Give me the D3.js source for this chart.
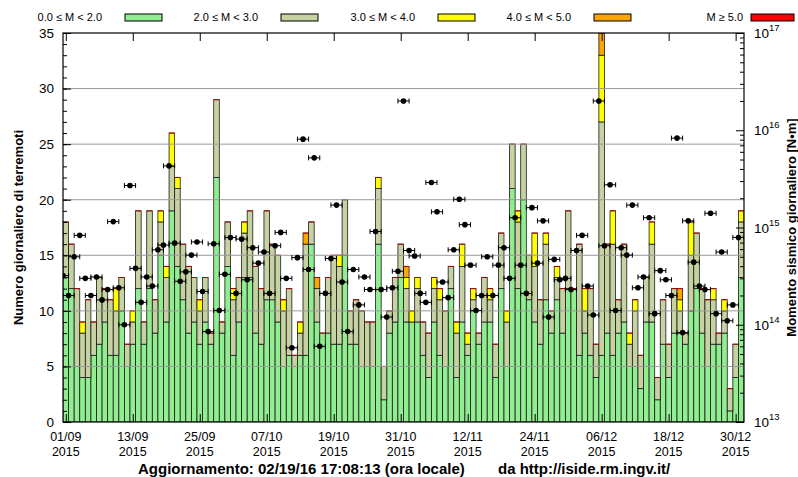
<!DOCTYPE html>
<html>
<head>
<meta charset="utf-8">
<script src="https://cdn.jsdelivr.net/npm/d3@7/dist/d3.min.js"></script>
<style>
body { margin: 0; background: #fff; }
svg { font-family: "Liberation Sans", Arial, Helvetica, sans-serif; }
</style>
</head>
<body>
<svg id="chart" width="798" height="477"></svg>
<script>
// daily counts per magnitude class, 01/09/2015 .. 31/12/2015
var firstDay = "2015-09-01";
var tickLabels = ["01/09", "13/09", "25/09", "07/10", "19/10", "31/10", "12/11", "24/11", "06/12", "18/12", "30/12"];
var tickYear = "2015";
var magClasses = ["0.0 \u2264 M < 2.0", "2.0 \u2264 M < 3.0", "3.0 \u2264 M < 4.0", "4.0 \u2264 M < 5.0", "M \u2265 5.0"];
var magColors = ["#90ee90", "#c6d2a2", "#ffff00", "#ffa500", "#ff0000"];

var countM0 = [13,12,5,4,4,6,7,9,6,6,10,5,7,12,7,12,8,15,9,19,14,
  11,8,9,7,9,7,22,8,14,6,9,13,13,8,7,11,11,9,5,6,
  5,6,6,16,9,8,8,7,7,15,7,7,5,5,5,16,2,8,9,13,9,
  9,9,6,4,9,6,5,12,4,9,6,10,7,9,9,4,12,5,21,12,20,
  11,9,7,11,8,11,8,12,12,6,8,6,4,6,8,6,8,9,5,
  5,3,9,9,2,7,4,8,8,7,10,12,8,5,7,7,8,1,4,13];
var countM2 = [5,4,7,4,7,3,6,3,5,4,3,2,2,7,2,7,3,3,4,4,7,
  5,6,4,3,4,1,7,1,4,5,4,4,6,6,5,8,5,6,5,6,
  1,2,10,2,3,0,5,8,7,5,3,4,5,4,4,5,3,2,4,3,3,
  0,3,3,4,3,5,5,2,4,5,1,1,1,4,2,3,5,4,4,6,5,
  4,5,4,5,2,2,4,7,0,10,2,6,3,21,8,10,3,7,2,
  5,3,4,7,2,4,3,4,2,1,5,5,4,6,4,1,2,2,3,5];
var countM3 = [0,0,0,1,0,0,0,0,0,2,0,0,1,0,0,0,0,1,1,3,1,
  0,0,0,1,0,0,0,0,0,1,0,1,0,0,0,0,0,0,1,0,
  0,1,0,0,0,0,0,0,1,0,0,0,0,0,0,1,0,0,0,0,1,
  1,1,0,0,1,1,0,0,1,2,1,1,0,0,1,0,0,1,0,1,0,
  0,3,0,1,0,1,0,0,0,0,2,0,0,6,0,3,0,0,1,
  1,0,0,2,0,0,0,0,1,0,3,0,0,0,1,0,1,0,0,1];
var countM4 = [0,0,0,0,0,0,0,0,0,0,0,0,0,0,0,0,0,0,0,0,0,
  0,0,0,0,0,0,0,0,0,0,0,0,0,0,0,0,0,0,0,0,
  0,0,1,0,1,0,0,0,0,0,0,0,0,0,0,0,0,0,0,0,1,
  0,0,0,0,0,0,0,0,0,0,0,0,0,0,0,0,0,0,0,0,0,
  0,0,0,0,0,0,0,0,0,0,0,0,0,2,0,0,0,0,0,
  0,0,0,0,0,0,0,0,1,0,0,0,0,0,0,0,0,0,0,0];
var countM5 = countM4.map(function() { return 0; });

// daily seismic moment [N*m]
var moment = [3.2e14,2.0e14,5.0e14,8.3e14,3.0e14,2.0e14,3.1e14,1.8e14,2.3e14,1.15e15,2.4e14,1.0e14,2.7e15,3.8e14,1.7e14,3.1e14,2.5e14,5.9e14,6.6e14,4.3e15,6.9e14,
  2.8e14,3.5e14,5.2e14,7.1e14,2.2e14,8.5e13,6.8e14,1.4e14,3.3e14,7.9e14,2.1e14,7.6e14,2.9e14,6.2e14,4.3e14,5.6e14,2.1e14,6.5e14,8.9e14,3.0e14,
  5.8e13,4.9e14,8.1e15,3.7e14,5.2e15,6.0e13,2.1e14,4.8e14,1.7e15,2.75e14,8.5e13,3.7e14,1.6e14,3.1e14,2.3e14,9.1e14,2.3e14,1.2e14,2.4e14,3.55e14,2.0e16,
  5.8e14,5.1e14,2.1e14,1.7e14,2.9e15,1.45e15,2.75e14,1.9e14,5.9e14,1.95e15,1.07e15,4.1e14,1.4e14,2.0e14,5.0e14,2.0e14,4.1e14,6.2e14,3.0e14,1.26e15,4.1e14,
  2.1e14,1.6e15,4.3e14,1.17e15,1.2e14,4.7e14,2.9e14,3.0e14,2.3e14,5.8e14,8.3e14,2.5e14,1.26e14,2.0e16,6.5e14,2.75e15,1.4e14,6.2e14,5.2e14,
  1.7e15,2.4e14,3.1e14,1.26e15,1.3e14,3.6e14,2.9e14,2.0e14,8.3e15,8.3e13,1.17e15,4.4e14,2.5e14,2.3e14,1.4e15,1.3e14,5.6e14,1.1e14,1.6e14,7.9e14];

var plotL = 63, plotR = 744, plotT = 33, plotB = 422;

var svg = d3.select("#chart");
var nDays = countM0.length;
var day0 = d3.timeParse("%Y-%m-%d")(firstDay);
var fmt = d3.timeFormat("%d/%m");
var days = d3.range(nDays).map(function(i) {
  return {
    i: i, label: fmt(d3.timeDay.offset(day0, i)),
    m0: countM0[i], m2: countM2[i], m3: countM3[i], m4: countM4[i], m5: countM5[i],
    moment: moment[i]
  };
});
var keys = ["m0", "m2", "m3", "m4", "m5"];

var x = d3.scaleLinear().domain([0, nDays]).range([plotL, plotR]);
var y = d3.scaleLinear().domain([0, 35]).range([plotB, plotT]);
var yM = d3.scaleLog().domain([1e13, 1e17]).range([plotB, plotT]);

svg.append("defs").append("clipPath").attr("id", "plotclip")
  .append("rect").attr("x", plotL).attr("y", plotT)
  .attr("width", plotR - plotL).attr("height", plotB - plotT);

var plot = svg.append("g").attr("clip-path", "url(#plotclip)");

// stacked bars
var stacked = d3.stack().keys(keys)(days);
plot.selectAll("g.layer")
  .data(stacked)
  .enter()
  .append("g")
  .attr("class", "layer")
  .attr("fill", function(d, k) { return magColors[k]; })
  .selectAll("rect")
  .data(function(d) { return d.filter(function(s) { return s[1] > s[0]; }); })
  .enter()
  .append("rect")
  .attr("x", function(s) { return x(s.data.i); })
  .attr("width", function(s) { return x(s.data.i + 1) - x(s.data.i); })
  .attr("y", function(s) { return y(s[1]); })
  .attr("height", function(s) { return y(s[0]) - y(s[1]); })
  .attr("stroke", "#1a1a1a")
  .attr("stroke-width", 0.8);

// top of each bar (M >= 5 layer, empty) drawn as a thin red line
plot.selectAll("line.top")
  .data(stacked[4])
  .enter()
  .append("line")
  .attr("class", "top")
  .attr("x1", function(s) { return x(s.data.i); })
  .attr("x2", function(s) { return x(s.data.i + 1); })
  .attr("y1", function(s) { return y(s[1]); })
  .attr("y2", function(s) { return y(s[1]); })
  .attr("stroke", "#b00000")
  .attr("stroke-width", 1);

// horizontal grid
plot.selectAll("line.grid")
  .data(d3.range(5, 35, 5))
  .enter()
  .append("line")
  .attr("class", "grid")
  .attr("x1", plotL).attr("x2", plotR)
  .attr("y1", function(d) { return y(d); })
  .attr("y2", function(d) { return y(d); })
  .attr("stroke", "#9a9a9a")
  .attr("stroke-width", 1);

// seismic moment: dots with horizontal error bars
var err = plot.selectAll("g.err")
  .data(days)
  .enter()
  .append("g")
  .attr("class", "err")
  .attr("stroke", "#000")
  .attr("fill", "#000");
err.append("path")
  .attr("fill", "none")
  .attr("stroke-width", 1)
  .attr("d", function(d) {
    var x1 = x(d.i - 1), x2 = x(d.i + 1), yy = yM(d.moment);
    return "M" + x1 + "," + yy + "H" + x2 +
      "M" + x1 + "," + (yy - 2.5) + "V" + (yy + 2.5) +
      "M" + x2 + "," + (yy - 2.5) + "V" + (yy + 2.5);
  });
err.append("circle")
  .attr("cx", function(d) { return x(d.i); })
  .attr("cy", function(d) { return yM(d.moment); })
  .attr("r", 2.8)
  .attr("stroke", "none");

// axes (ticks pointing inward)
var leftAxis = svg.append("g").attr("transform", "translate(" + plotL + ",0)")
  .call(d3.axisLeft(y).tickValues(d3.range(0, 36, 5)).tickSize(-8).tickPadding(9));
svg.append("g").attr("transform", "translate(" + plotL + ",0)")
  .call(d3.axisLeft(y).tickValues(d3.range(0, 36, 1)).tickSize(-4).tickFormat(""));

var decades = [1e13, 1e14, 1e15, 1e16, 1e17];
var rightAxis = svg.append("g").attr("transform", "translate(" + plotR + ",0)")
  .call(d3.axisRight(yM).tickValues(decades).tickSize(-8).tickPadding(10).tickFormat(""));
svg.append("g").attr("transform", "translate(" + plotR + ",0)")
  .call(d3.axisRight(yM).tickValues(yM.ticks().filter(function(v) { return decades.indexOf(v) < 0; }))
    .tickSize(-4).tickFormat(""));

var tickDays = days.filter(function(d) { return tickLabels.indexOf(d.label) >= 0; });
var tickPos = tickDays.map(function(d) { return d.i + 0.5; });
svg.append("g").attr("transform", "translate(0," + plotT + ")")
  .call(d3.axisTop(x).tickValues(tickPos).tickSize(-8).tickFormat(""));
svg.append("g").attr("transform", "translate(0," + plotB + ")")
  .call(d3.axisBottom(x).tickValues(tickPos).tickSize(-8).tickFormat(""));

svg.selectAll(".domain").remove();
svg.selectAll(".tick line").attr("stroke", "#000").attr("stroke-width", 1);

leftAxis.selectAll(".tick text")
  .attr("font-size", 13.5).attr("fill", "#000")
  .attr("font-family", "Liberation Sans, Arial, sans-serif");

rightAxis.selectAll(".tick").each(function(v) {
  var t = d3.select(this).select("text").attr("font-size", 13.5).attr("fill", "#000")
    .attr("font-family", "Liberation Sans, Arial, sans-serif").attr("dy", "0.35em");
  t.append("tspan").text("10");
  t.append("tspan").attr("font-size", 9.5).attr("dy", "-0.75em").text(Math.round(Math.log10(v)));
});

var dateLab = svg.append("g").attr("font-size", 12.5).attr("text-anchor", "middle");
dateLab.selectAll("text.d")
  .data(tickDays)
  .enter()
  .append("text")
  .attr("class", "d")
  .attr("x", function(d) { return x(d.i + 0.5); })
  .attr("y", 441)
  .text(function(d) { return d.label; });
dateLab.selectAll("text.yr")
  .data(tickDays)
  .enter()
  .append("text")
  .attr("class", "yr")
  .attr("x", function(d) { return x(d.i + 0.5); })
  .attr("y", 455.5)
  .text(tickYear);

// frame
svg.append("rect")
  .attr("x", plotL).attr("y", plotT)
  .attr("width", plotR - plotL).attr("height", plotB - plotT)
  .attr("fill", "none").attr("stroke", "#000").attr("stroke-width", 1.2);

// axis titles
svg.append("text")
  .attr("transform", "translate(23," + ((plotT + plotB) / 2) + ") rotate(-90)")
  .attr("text-anchor", "middle")
  .attr("font-size", 13).attr("font-weight", "bold")
  .text("Numero giornaliero di terremoti");
svg.append("text")
  .attr("transform", "translate(796," + ((plotT + plotB) / 2) + ") rotate(-90)")
  .attr("text-anchor", "middle")
  .attr("font-size", 13).attr("font-weight", "bold")
  .text("Momento sismico giornaliero [N\u2022m]");

// footer
svg.append("text")
  .attr("x", 138).attr("y", 474)
  .attr("font-size", 15).attr("font-weight", "bold")
  .text("Aggiornamento: 02/19/16 17:08:13 (ora locale)");
svg.append("text")
  .attr("x", 498).attr("y", 474)
  .attr("font-size", 15).attr("font-weight", "bold")
  .text("da http://iside.rm.ingv.it/");

// legend
var legX = [125, 281, 438, 594, 751];
var legW = [37, 37, 37, 37, 43];
var legend = svg.append("g").selectAll("g")
  .data(magClasses)
  .enter()
  .append("g");
legend.append("rect")
  .attr("x", function(d, k) { return legX[k]; })
  .attr("y", 14)
  .attr("width", function(d, k) { return legW[k]; }).attr("height", 7)
  .attr("fill", function(d, k) { return magColors[k]; })
  .attr("stroke", "#000").attr("stroke-width", 1);
legend.append("text")
  .attr("x", function(d, k) { return legX[k] - (k === 4 ? 8 : 23); })
  .attr("y", 21)
  .attr("text-anchor", "end")
  .attr("font-size", 11)
  .text(function(d) { return d; });
</script>
</body>
</html>
